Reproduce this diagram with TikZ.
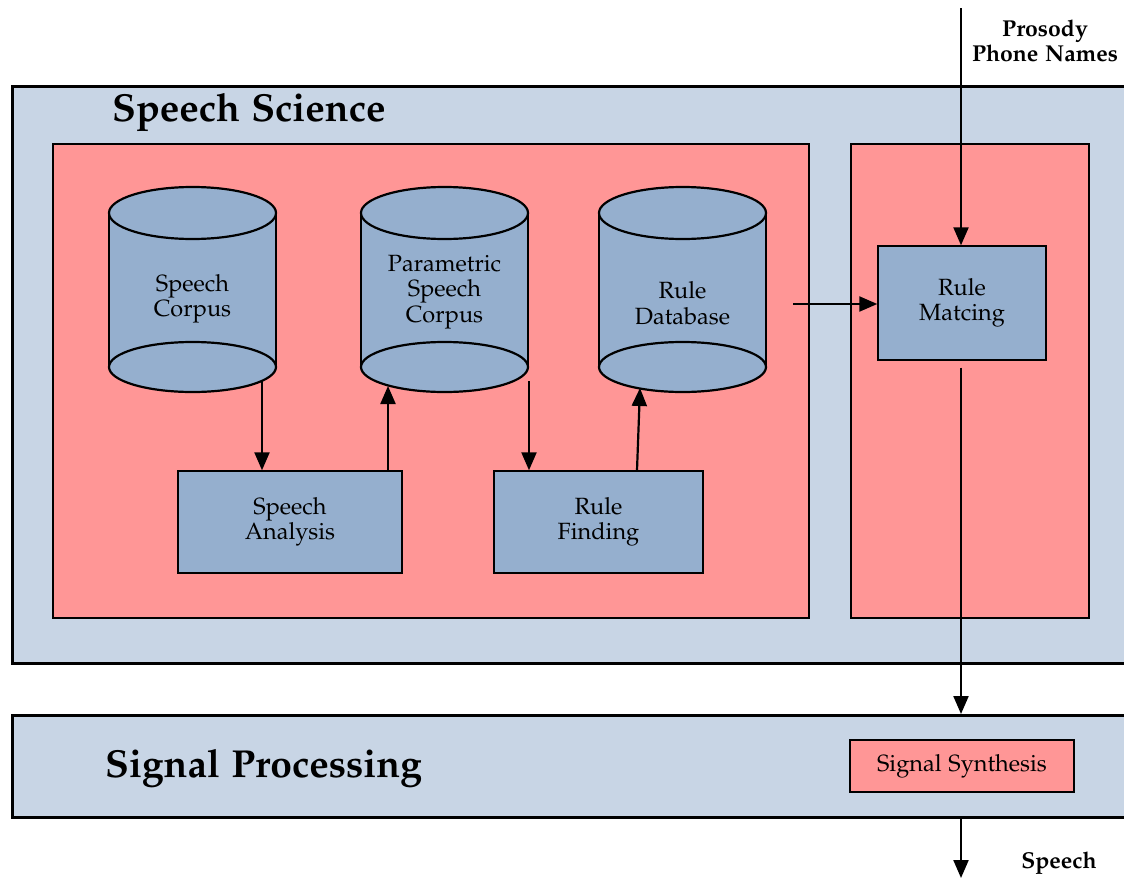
\documentclass[tikz,border=0pt]{standalone}
\IfFileExists{mathpazo.sty}
  {\usepackage[T1]{fontenc}\usepackage[sc]{mathpazo}}
  {\usepackage{fontspec}\setmainfont{Liberation Serif}}
\usetikzlibrary{arrows.meta,calc}

\definecolor{paneblue}{RGB}{200,213,229}
\definecolor{panered}{RGB}{255,150,150}
\definecolor{itemblue}{RGB}{149,175,206}

\tikzset{
  panel/.style={draw=black, line width=2.5pt, fill=paneblue, anchor=north west, inner sep=0pt},
  subpanel/.style={draw=black, line width=2.3pt, fill=panered, anchor=north west, inner sep=0pt},
  process/.style={draw=black, line width=1.4pt, fill=itemblue, inner sep=0pt, align=center,
    font=\fontsize{23.5}{25.5}\selectfont},
  synthbox/.style={draw=black, line width=2.2pt, fill=panered, inner sep=0pt,
    font=\fontsize{23.5}{25.5}\selectfont},
  drumline/.style={draw=black, line width=2.2pt},
  drumtext/.style={inner sep=0pt, align=center, font=\fontsize{23.5}{25.5}\selectfont},
  drumbody/.style={inner sep=0pt, minimum width=167pt, minimum height=205pt},
  heading/.style={inner sep=0pt, anchor=west, font=\fontsize{39}{42}\selectfont\bfseries},
  iolabel/.style={inner sep=0pt, align=center, font=\fontsize{23}{25}\selectfont\bfseries},
  arr/.style={line width=2.2pt, -{Triangle[length=18pt,width=15pt]}},
}

% database cylinder: name, centre x, label, label y
\newcommand\drum[4]{%
  \fill[itemblue] (#2-83.5,213) rectangle (#2+83.5,367);
  \draw[drumline, fill=itemblue] (#2,367) ellipse [x radius=83.5pt, y radius=25pt];
  \draw[drumline] (#2-83.5,213) -- (#2-83.5,367) (#2+83.5,213) -- (#2+83.5,367);
  \draw[drumline, fill=itemblue] (#2,213) ellipse [x radius=83.5pt, y radius=26pt];
  \node[drumbody] (#1) at (#2,289.5) {};
  \node[drumtext] (#1-label) at (#2,#4) {#3};
}

\begin{document}
\begin{tikzpicture}[x=1pt,y=-1pt]
\useasboundingbox (0,0) rectangle (1124,878);
\fill[white] (0,0) rectangle (1124,878);

% panels
\node[panel, minimum width=1200pt, minimum height=577pt] (science) at (11,85) {};
\node[heading] (science-title) at (112,112) {Speech Science};
\node[subpanel, minimum width=756pt, minimum height=474pt] (analysis) at (52,143) {};
\node[subpanel, minimum width=238pt, minimum height=474pt] (matching) at (850,143) {};
\node[panel, minimum width=1200pt, minimum height=102pt] (signal) at (11,714) {};
\node[heading] (signal-title) at (105,768) {Signal Processing};

% databases
\drum{sc}{192.5}{Speech\\Corpus}{299}
\drum{pc}{444.5}{Parametric\\Speech\\Corpus}{292}
\drum{rd}{682.5}{Rule\\Database}{303}

% processes
\node[process, minimum width=224pt, minimum height=102pt] (sa) at (290,522) {Speech\\Analysis};
\node[process, minimum width=209pt, minimum height=102pt] (rf) at (598.5,522) {Rule\\Finding};
\node[process, minimum width=168pt, minimum height=114pt] (rm) at (962,303) {Rule\\Matcing};
\node[synthbox, minimum width=224pt, minimum height=52pt] (ss) at (962,766) {Signal Synthesis};

% inputs and output
\node[iolabel] (inlabel) at (1045,41) {Prosody\\Phone Names};
\node[iolabel] (outlabel) at (1059,863) {Speech};

% connector end points on the cylinder rims
\coordinate (sc-out) at (262,380);
\coordinate (pc-in) at (388,386);
\coordinate (pc-out) at (529,381);
\coordinate (rd-in) at (640,388);
\coordinate (rd-out) at (793,304);
\coordinate (feed) at (961,8);
\coordinate (speech-out) at (961,878);

% connectors
\draw[arr] (sc-out) -- (sc-out |- sa.north);
\draw[arr] (pc-in |- sa.north) -- (pc-in);
\draw[arr] (pc-out) -- (pc-out |- rf.north);
\draw[arr] ([xshift=38.5pt]rf.north) -- (rd-in);
\draw[arr] (rd-out) -- (rd-out -| rm.west);
\draw[arr] (feed) -- (feed |- rm.north);
\draw[arr] ([yshift=-7pt]feed |- rm.south) -- (feed |- signal.north);
\draw[arr] (feed |- signal.south) -- (speech-out);
\end{tikzpicture}
\end{document}
